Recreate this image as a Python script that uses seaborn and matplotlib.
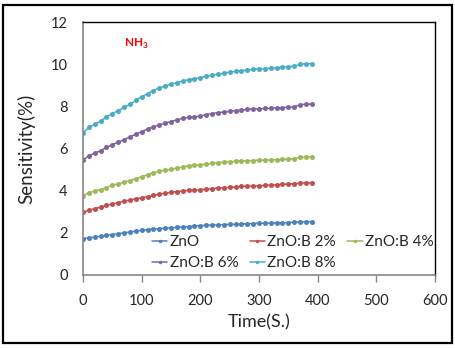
import numpy as np
import pandas as pd
import matplotlib
matplotlib.use("Agg")
import matplotlib.pyplot as plt
from matplotlib.lines import Line2D
from matplotlib.patches import Rectangle
import seaborn as sns

# tiempo (s), una medida cada 10 s
tiempo = list(range(0, 400, 10))

zno = [1.72, 1.77, 1.80, 1.84, 1.88, 1.92, 1.96, 2.00, 2.04, 2.08,
       2.12, 2.15, 2.18, 2.20, 2.22, 2.24, 2.26, 2.28, 2.30, 2.32,
       2.34, 2.36, 2.37, 2.38, 2.39, 2.40, 2.41, 2.42, 2.43, 2.44,
       2.45, 2.46, 2.47, 2.47, 2.48, 2.49, 2.50, 2.52, 2.53, 2.53]
znob_2 = [2.97, 3.07, 3.15, 3.22, 3.30, 3.37, 3.43, 3.50, 3.56, 3.61,
          3.66, 3.72, 3.78, 3.83, 3.88, 3.92, 3.96, 3.99, 4.01, 4.02,
          4.04, 4.07, 4.10, 4.12, 4.14, 4.16, 4.18, 4.20, 4.21, 4.22,
          4.23, 4.25, 4.26, 4.28, 4.30, 4.31, 4.33, 4.35, 4.37, 4.37]
znob_4 = [3.76, 3.90, 3.98, 4.05, 4.15, 4.25, 4.33, 4.40, 4.48, 4.57,
          4.66, 4.76, 4.85, 4.92, 4.97, 5.02, 5.07, 5.12, 5.17, 5.20,
          5.22, 5.26, 5.30, 5.33, 5.35, 5.37, 5.39, 5.41, 5.42, 5.43,
          5.44, 5.45, 5.46, 5.47, 5.48, 5.49, 5.52, 5.58, 5.60, 5.60]
znob_6 = [5.46, 5.65, 5.78, 5.90, 6.05, 6.18, 6.30, 6.42, 6.55, 6.68,
          6.80, 6.92, 7.02, 7.12, 7.20, 7.28, 7.36, 7.43, 7.48, 7.50,
          7.54, 7.60, 7.66, 7.70, 7.73, 7.76, 7.80, 7.82, 7.85, 7.87,
          7.88, 7.90, 7.91, 7.93, 7.94, 7.95, 7.98, 8.08, 8.10, 8.10]
znob_8 = [6.74, 7.00, 7.15, 7.30, 7.50, 7.65, 7.80, 7.95, 8.10, 8.28,
          8.45, 8.60, 8.75, 8.88, 8.95, 9.05, 9.12, 9.20, 9.27, 9.32,
          9.36, 9.42, 9.48, 9.53, 9.57, 9.62, 9.66, 9.69, 9.72, 9.75,
          9.77, 9.79, 9.81, 9.83, 9.86, 9.88, 9.90, 10.00, 10.02, 10.02]

series = ["ZnO", "ZnO:B 2%", "ZnO:B 4%", "ZnO:B 6%", "ZnO:B 8%"]
valores = [zno, znob_2, znob_4, znob_6, znob_8]
colores = ["#4F81BD", "#C0504D", "#9BBB59", "#8064A2", "#4BACC6"]

xticks = [0, 100, 200, 300, 400, 500, 600]
yticks = [0, 2, 4, 6, 8, 10, 12]

df = pd.concat([pd.DataFrame({"t": tiempo, "s": v, "serie": n})
                for n, v in zip(series, valores)], ignore_index=True)

sns.set_style("white")
plt.rcParams["font.family"] = ["Lato", "DejaVu Sans"]

fig = plt.figure(figsize=(4.55, 3.48), dpi=100)
ax = fig.add_axes([83 / 455, 1 - 275 / 348, 352 / 455, 253 / 348])

sns.lineplot(data=df, x="t", y="s", hue="serie", palette=colores,
             marker="o", markersize=3.6, markeredgewidth=0, linewidth=1.1,
             legend=False, ax=ax)

ax.set_xlim(0, 600)
ax.set_ylim(0, 12)
ax.set_xticks(xticks)
ax.set_yticks(yticks)
ax.tick_params(axis="x", length=5, color="#868686", width=1, pad=9, labelsize=10.5, direction="out")
ax.tick_params(axis="y", length=0, pad=11, labelsize=10.5)
ax.tick_params(bottom=True, left=False)
ax.set_xlabel("Time(S.)", fontsize=13, labelpad=4)
ax.set_ylabel("Sensitivity(%)", fontsize=13.5, labelpad=11)

for lado in ["left", "bottom"]:
    ax.spines[lado].set_color("#868686")
    ax.spines[lado].set_linewidth(1.2)
for lado in ["top", "right"]:
    ax.spines[lado].set_color("black")
    ax.spines[lado].set_linewidth(1.0)

ax.text(70, 10.95, r"NH$_\mathregular{3}$", color="#FF0000", fontsize=8.5,
        fontweight="bold", va="center", ha="left")

# leyenda por filas: reordenar para ncol=3
orden = [0, 3, 1, 4, 2]
handles = [Line2D([], [], color=colores[i], marker="o", markersize=2.5,
                  markeredgewidth=0, linewidth=1.1) for i in orden]
labels = [series[i] for i in orden]
ax.legend(handles, labels, ncol=3, frameon=False, fontsize=11,
          loc="upper left", bbox_to_anchor=(152 / 455, 1 - 235 / 348),
          bbox_transform=fig.transFigure, handlelength=1.0, handletextpad=0.15,
          columnspacing=0.75, labelspacing=0.45, borderpad=0, borderaxespad=0)

fig.patches.append(Rectangle((3 / 455, 5 / 348), 449 / 455, 338 / 348,
                             transform=fig.transFigure, fill=False,
                             edgecolor="black", linewidth=1.6))

fig.savefig("out.png", dpi=100)
